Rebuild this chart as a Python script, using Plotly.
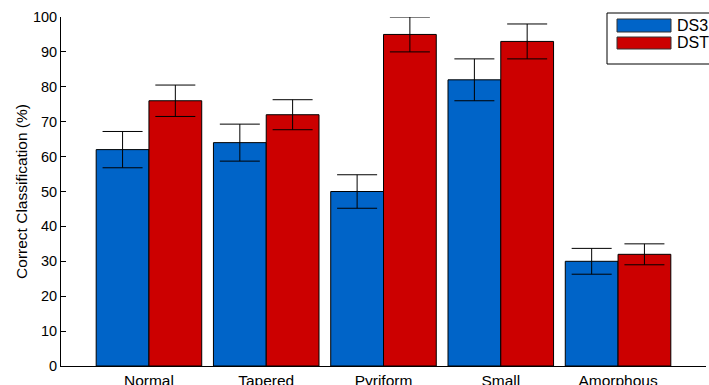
import plotly.graph_objects as go

# Classification results per morphology class
categories = ["Normal", "Tapered", "Pyriform", "Small", "Amorphous"]
series_names = ["DS3", "DST"]
ds3_values = [62, 64, 50, 82, 30]
ds3_errors = [5.2, 5.3, 4.8, 6.0, 3.7]
dst_values = [76, 72, 95, 93, 32]
dst_errors = [4.5, 4.3, 5.0, 5.0, 3.0]
y_ticks = [0, 10, 20, 30, 40, 50, 60, 70, 80, 90, 100]

colors = ["#0064C8", "#CC0000"]
FONT = "Liberation Sans, Arial, Helvetica, sans-serif"

W, H = 709, 385
ML, MR, MT, MB = 61, 3, 17, 19
PW, PH = W - ML - MR, H - MT - MB


def px_x(x):
    return (x - ML) / PW


def px_y(y):
    return (H - MB - y) / PH


xpos = list(range(len(categories)))
fig = go.Figure()
for name, vals, errs, col in zip(series_names, [ds3_values, dst_values],
                                 [ds3_errors, dst_errors], colors):
    fig.add_trace(go.Bar(
        x=xpos, y=vals, name=name,
        marker=dict(color=col, line=dict(color="black", width=1)),
        error_y=dict(type="data", array=errs, visible=True,
                     color="black", thickness=1, width=20),
        showlegend=False,
    ))

# Hand-drawn legend box in the upper-right corner
shapes = [dict(type="rect", xref="paper", yref="paper",
               x0=px_x(607), x1=px_x(716), y0=px_y(64), y1=px_y(13),
               line=dict(color="black", width=1), fillcolor="white", layer="above")]
annotations = []
swatch_rows = [(19, 32), (37, 49)]
for (top, bot), name, col in zip(swatch_rows, series_names, colors):
    shapes.append(dict(type="rect", xref="paper", yref="paper",
                       x0=px_x(617), x1=px_x(671), y0=px_y(bot), y1=px_y(top),
                       line=dict(color="#333333", width=1), fillcolor=col, layer="above"))
    annotations.append(dict(xref="paper", yref="paper", x=px_x(675), y=px_y((top + bot) / 2),
                            text=name, showarrow=False, xanchor="left", yanchor="middle",
                            font=dict(family=FONT, size=16, color="black")))

fig.update_layout(
    width=W, height=H,
    margin=dict(l=ML, r=MR, t=MT, b=MB, pad=0),
    paper_bgcolor="white", plot_bgcolor="white",
    barmode="group", bargap=0.1, bargroupgap=0,
    font=dict(family=FONT, size=15, color="black"),
    shapes=shapes, annotations=annotations,
    xaxis=dict(range=[-0.75, 4.75], tickmode="array", tickvals=xpos, ticktext=categories,
               showline=True, linecolor="black", linewidth=1, ticks="", showgrid=False,
               zeroline=False, tickfont=dict(size=15.5), automargin=False),
    yaxis=dict(range=[0, 100], tickmode="array", tickvals=y_ticks,
               showline=True, linecolor="black", linewidth=1, ticks="inside", ticklen=5,
               tickcolor="black", showgrid=False, zeroline=False, tickfont=dict(size=14.5),
               automargin=False,
               title=dict(text="Correct Classification (%)", font=dict(size=15.5), standoff=1)),
)

fig.write_html("out.html")
